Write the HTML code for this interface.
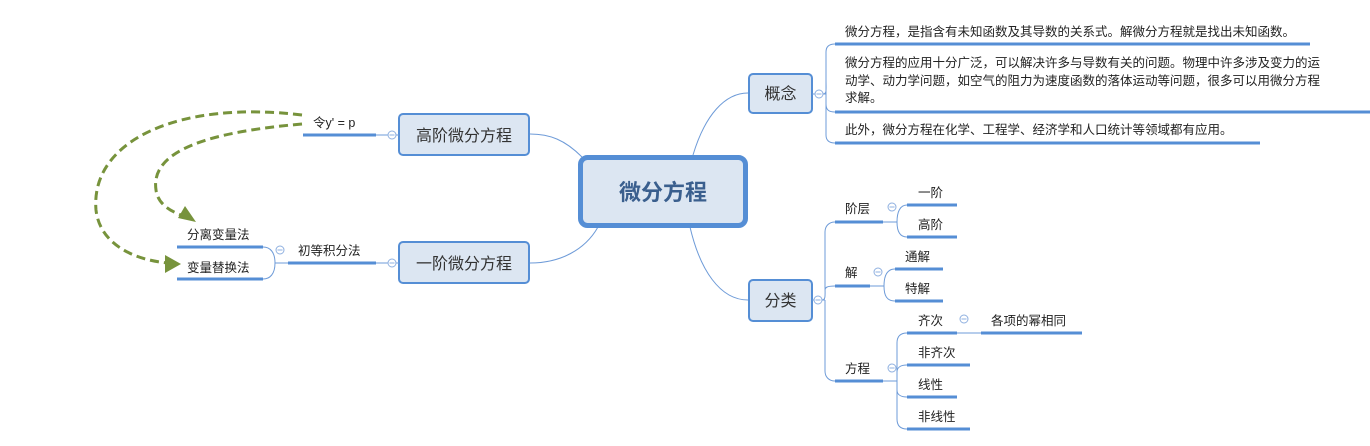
<!DOCTYPE html>
<html><head><meta charset="utf-8"><style>
html,body{margin:0;padding:0;background:#fff;}
svg{display:block;}
text{font-family:"Liberation Sans","Noto Sans CJK SC",sans-serif;fill:#222;}
.t{font-size:12.5px;}
.b{font-size:16px;fill:#333;}
.u{stroke:#558ED5;stroke-width:3;fill:none;}
.c{stroke:#6E9BD8;stroke-width:1;fill:none;}
.box{fill:#DCE6F2;stroke:#558ED5;stroke-width:2;}
.ci{fill:#fff;stroke:#8FB0E0;stroke-width:1;}
.d{stroke:#77933C;stroke-width:3;fill:none;stroke-dasharray:9,5;}
</style></head><body>
<svg width="1370" height="446" viewBox="0 0 1370 446" xmlns="http://www.w3.org/2000/svg">
<!-- main connectors -->
<path class="c" d="M582,157 C565,140 550,134 530,134"/>
<path class="c" d="M598,227 C585,250 560,263 530,263"/>
<path class="c" d="M693,155 C705,115 725,93 748,93"/>
<path class="c" d="M690,227 C700,270 720,300 748,300"/>

<!-- central -->
<rect x="580.5" y="157.5" width="165" height="68" rx="7" fill="#DCE6F2" stroke="#558ED5" stroke-width="5"/>
<text x="663" y="200" text-anchor="middle" style="font-size:22px;font-weight:bold;fill:#3A5F8E">微分方程</text>

<!-- left: 高阶 -->
<rect class="box" x="399" y="114" width="130" height="41" rx="4"/>
<text class="b" x="464" y="141" text-anchor="middle">高阶微分方程</text>
<line class="c" x1="376" y1="135" x2="399" y2="135"/>
<circle class="ci" cx="392" cy="135" r="4"/><line x1="389.5" y1="135" x2="394.5" y2="135" stroke="#8FB0E0"/>
<line class="u" x1="303" y1="135" x2="376" y2="135"/>
<text class="t" x="313" y="127">令y' = p</text>

<!-- left: 一阶 -->
<rect class="box" x="399" y="242" width="130" height="41" rx="4"/>
<text class="b" x="464" y="269" text-anchor="middle">一阶微分方程</text>
<line class="c" x1="376" y1="263" x2="399" y2="263"/>
<circle class="ci" cx="392" cy="263" r="4"/><line x1="389.5" y1="263" x2="394.5" y2="263" stroke="#8FB0E0"/>
<line class="u" x1="288" y1="263" x2="376" y2="263"/>
<text class="t" x="298" y="255">初等积分法</text>
<line class="c" x1="275" y1="263" x2="288" y2="263"/>
<path class="c" d="M275,263 C275,252 270,247 263,247 M275,263 C275,274 270,279 263,279"/>
<circle class="ci" cx="280" cy="250" r="4"/><line x1="277.5" y1="250" x2="282.5" y2="250" stroke="#8FB0E0"/>
<line class="u" x1="177" y1="247" x2="263" y2="247"/>
<line class="u" x1="177" y1="279" x2="263" y2="279"/>
<text class="t" x="187" y="239">分离变量法</text>
<text class="t" x="187" y="272">变量替换法</text>

<!-- dashed arrows -->
<path class="d" d="M302,115 C180,100 90,140 96,210 C100,245 135,260 168,263"/>
<polygon points="181,264 165,255 165,273" fill="#77933C"/>
<path class="d" d="M302,124 C210,132 150,150 156,190 C158,205 172,212 184,216"/>
<polygon points="196,222 178,218 185,206" fill="#77933C"/>

<!-- 概念 -->
<rect class="box" x="749" y="74" width="63" height="39" rx="4"/>
<text class="b" x="780.5" y="99" text-anchor="middle">概念</text>
<line class="c" x1="812" y1="94" x2="826" y2="94"/>
<circle class="ci" cx="819" cy="94" r="4"/><line x1="816.5" y1="94" x2="821.5" y2="94" stroke="#8FB0E0"/>
<path class="c" d="M823,94 C827,94 826,90 826,80 L826,52 C826,47 829,44 835,44 M826,80 L826,104 C826,110 829,112 835,112 M826,104 L826,135 C826,140 829,143 835,143"/>
<line class="u" x1="835" y1="44" x2="1310" y2="44"/>
<line class="u" x1="835" y1="112" x2="1370" y2="112"/>
<line class="u" x1="835" y1="143" x2="1260" y2="143"/>
<text class="t" x="845" y="36">微分方程，是指含有未知函数及其导数的关系式。解微分方程就是找出未知函数。</text>
<text class="t" x="845" y="67">微分方程的应用十分广泛，可以解决许多与导数有关的问题。物理中许多涉及变力的运</text>
<text class="t" x="845" y="85">动学、动力学问题，如空气的阻力为速度函数的落体运动等问题，很多可以用微分方程</text>
<text class="t" x="845" y="102">求解。</text>
<text class="t" x="845" y="134">此外，微分方程在化学、工程学、经济学和人口统计等领域都有应用。</text>

<!-- 分类 -->
<rect class="box" x="749" y="280" width="63" height="41" rx="4"/>
<text class="b" x="780.5" y="306" text-anchor="middle">分类</text>
<line class="c" x1="812" y1="300" x2="825" y2="300"/>
<circle class="ci" cx="818" cy="300" r="4"/><line x1="815.5" y1="300" x2="820.5" y2="300" stroke="#8FB0E0"/>
<path class="c" d="M822,300 C826,300 825,295 825,285 L825,232 C825,226 829,222 835,222 M825,290 C825,288 826,286 835,286 M825,300 L825,371 C825,377 829,381 835,381"/>
<line class="u" x1="835" y1="222" x2="883" y2="222"/>
<line class="u" x1="835" y1="286" x2="870" y2="286"/>
<line class="u" x1="835" y1="381" x2="883" y2="381"/>
<text class="t" x="845" y="213">阶层</text>
<text class="t" x="845" y="277">解</text>
<text class="t" x="845" y="373">方程</text>

<!-- 阶层 children -->
<line class="c" x1="883" y1="222" x2="897" y2="222"/>
<circle class="ci" cx="892" cy="207" r="4"/><line x1="889.5" y1="207" x2="894.5" y2="207" stroke="#8FB0E0"/>
<path class="c" d="M897,222 C897,212 900,205 907,205 M897,222 C897,232 900,237 907,237"/>
<line class="u" x1="907" y1="205" x2="957" y2="205"/>
<line class="u" x1="907" y1="237" x2="957" y2="237"/>
<text class="t" x="918" y="197">一阶</text>
<text class="t" x="918" y="229">高阶</text>

<!-- 解 children -->
<line class="c" x1="870" y1="286" x2="884" y2="286"/>
<circle class="ci" cx="878" cy="272" r="4"/><line x1="875.5" y1="272" x2="880.5" y2="272" stroke="#8FB0E0"/>
<path class="c" d="M884,286 C884,276 887,269 895,269 M884,286 C884,296 887,301 895,301"/>
<line class="u" x1="895" y1="269" x2="943" y2="269"/>
<line class="u" x1="895" y1="301" x2="943" y2="301"/>
<text class="t" x="905" y="261">通解</text>
<text class="t" x="905" y="293">特解</text>

<!-- 方程 children -->
<line class="c" x1="883" y1="381" x2="897" y2="381"/>
<circle class="ci" cx="892" cy="368" r="4"/><line x1="889.5" y1="368" x2="894.5" y2="368" stroke="#8FB0E0"/>
<path class="c" d="M897,381 L897,343 C897,337 900,333 907,333 M897,381 L897,372 C897,368 900,365 907,365 M897,381 L897,390 C897,394 900,397 907,397 M897,381 L897,419 C897,425 900,429 907,429"/>
<line class="u" x1="907" y1="333" x2="957" y2="333"/>
<line class="u" x1="907" y1="365" x2="970" y2="365"/>
<line class="u" x1="907" y1="397" x2="957" y2="397"/>
<line class="u" x1="907" y1="429" x2="970" y2="429"/>
<text class="t" x="918" y="325">齐次</text>
<text class="t" x="918" y="357">非齐次</text>
<text class="t" x="918" y="389">线性</text>
<text class="t" x="918" y="421">非线性</text>

<line class="c" x1="957" y1="333" x2="981" y2="333"/>
<circle class="ci" cx="964" cy="319" r="4"/><line x1="961.5" y1="319" x2="966.5" y2="319" stroke="#8FB0E0"/>
<line class="u" x1="981" y1="333" x2="1082" y2="333"/>
<text class="t" x="991" y="325">各项的幂相同</text>
</svg>
</body></html>
